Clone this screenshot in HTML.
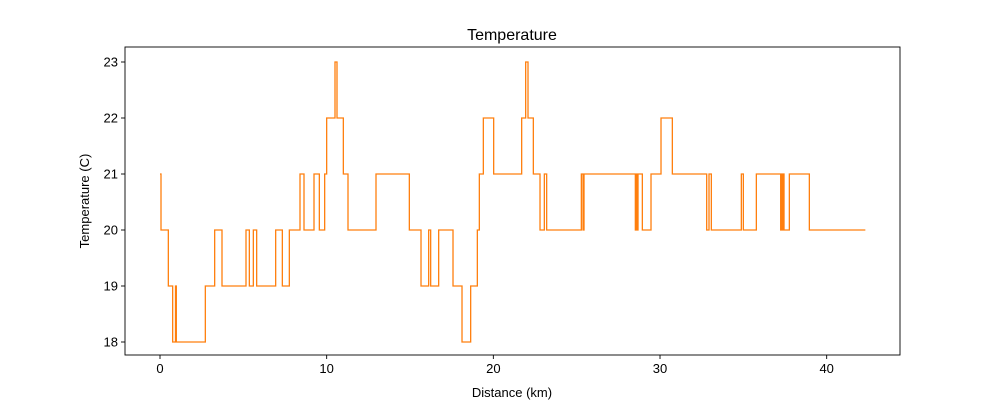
<!DOCTYPE html>
<html><head><meta charset="utf-8"><style>body{margin:0;background:#fff}svg{font-family:"Liberation Sans",sans-serif}</style></head>
<body>
<svg id="chart" width="1000" height="400"></svg>
<script>
const distances=[0,0.06,0.5,0.76,0.93,0.98,2.72,3.28,3.72,5.16,5.36,5.6,5.8,6.94,7.34,7.76,8.4,8.64,9.24,9.56,9.88,10.0,10.5,10.62,11.0,11.28,12.96,14.96,15.66,16.12,16.24,16.72,17.58,18.12,18.64,19.04,19.16,19.4,20.02,21.7,21.94,22.08,22.4,22.8,23.06,23.2,25.28,25.38,25.44,28.52,28.56,28.62,28.68,28.94,29.46,30.06,30.74,32.8,32.94,33.08,34.88,35.0,35.78,37.24,37.29,37.35,37.4,37.44,37.76,38.96,42.32];
const temps=[21,20,19,18,19,18,19,20,19,20,19,20,19,20,19,20,21,20,21,20,21,22,23,22,21,20,21,20,19,20,19,20,19,18,19,20,21,22,21,22,23,22,21,20,21,20,21,20,21,20,21,20,21,20,21,22,21,20,21,20,21,20,21,20,21,20,21,20,21,20,20];
const xTicks=[0,10,20,30,40];
const yTicks=[18,19,20,21,22,23];
const L=125,R=900,T=47,B=355;
const xs=v=>160+(v)*16.667;
const ys=v=>342-(v-18)*56;
const svg=document.getElementById('chart');
const NS='http://www.w3.org/2000/svg';
function mk(t,a){const e=document.createElementNS(NS,t);for(const k in a)e.setAttribute(k,a[k]);svg.appendChild(e);return e;}
let d='';
for(let i=0;i<distances.length;i++){
  const x=xs(distances[i]).toFixed(2),y=ys(temps[i]).toFixed(2);
  if(i===0)d+=`M${x},${y}`;else d+=`H${x}V${y}`;
}
const line=mk('path',{d:d,fill:'none',stroke:'#ff7f0e','stroke-width':1.3});


const frame=mk('rect',{x:L,y:T,width:R-L,height:B-T,fill:'none',stroke:'#000','stroke-width':0.9});


xTicks.forEach(t=>{
  const x=xs(t);
  mk('line',{x1:x,x2:x,y1:B,y2:B+4,stroke:'#000','stroke-width':0.9});
  const tx=mk('text',{x:x,y:B+18,'text-anchor':'middle','font-size':13});
  tx.textContent=t;
  
  
});
yTicks.forEach(t=>{
  const y=ys(t);
  mk('line',{x1:L-4,x2:L,y1:y,y2:y,stroke:'#000','stroke-width':0.9});
  const tx=mk('text',{x:L-7,y:y+4.5,'text-anchor':'end','font-size':13});
  tx.textContent=t;
  
  
});
const title=mk('text',{x:512,y:40,'text-anchor':'middle','font-size':16});
title.textContent='Temperature';


const xl=mk('text',{x:512,y:397,'text-anchor':'middle','font-size':13});
xl.textContent='Distance (km)';


const yl=mk('text',{x:89,y:201,'text-anchor':'middle','font-size':13,transform:'rotate(-90 89 201)'});
yl.textContent='Temperature (C)';


</script>
</body></html>
